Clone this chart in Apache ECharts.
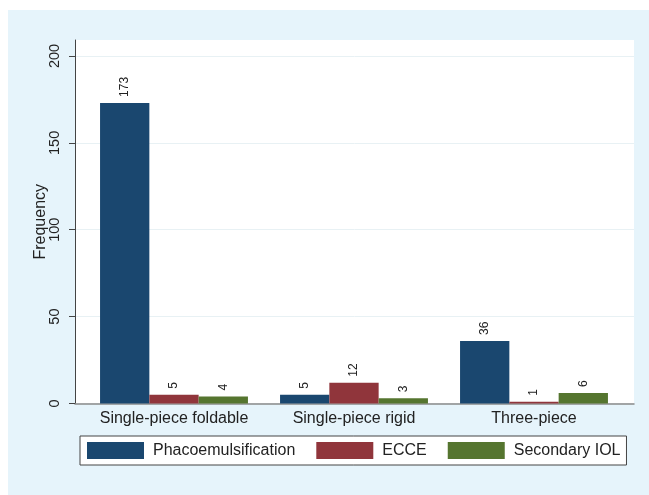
<!DOCTYPE html>
<html>
<head>
<meta charset="utf-8">
<script src="https://cdn.jsdelivr.net/npm/echarts@6/dist/echarts.min.js"></script>
<style>
  body { margin: 0; background: #fff; }
  #wrap { position: relative; width: 649px; height: 495px; }
  #bg { position: absolute; left: 8px; top: 10px; right: 0; bottom: 0; background: #e6f4fb; }
  #chart { position: absolute; left: 0; top: 0; width: 649px; height: 495px; }
</style>
</head>
<body>
<div id="wrap">
  <div id="bg"></div>
  <div id="chart"></div>
</div>
<script>
// lens type categories and counts per surgery type
var categories = ['Single-piece foldable', 'Single-piece rigid', 'Three-piece'];
var phaco = [173, 5, 36];
var ecce = [5, 12, 1];
var secondary = [4, 3, 6];
var yTicks = [0, 50, 100, 150, 200];

var font = '"Liberation Sans", Arial, sans-serif';
var yMax = 209.2; // plot region tops out a little above 200

function barSeries(name, data, color) {
  return {
    name: name,
    type: 'bar',
    data: data,
    barWidth: 49.3,
    barGap: 0,
    xAxisIndex: 0,
    yAxisIndex: 0,
    itemStyle: { color: color },
    label: {
      show: true,
      position: 'top',
      distance: 6,
      rotate: 90,
      align: 'left',
      verticalAlign: 'middle',
      fontSize: 12,
      fontFamily: font,
      color: '#222'
    }
  };
}

var chart = echarts.init(document.getElementById('chart'));
chart.setOption({
  animation: false,
  textStyle: { fontFamily: font },
  grid: [
    { left: 84, right: 25, top: 40, bottom: 91.5 },
    { left: 75, right: 15, top: 40, bottom: 91.5, show: true, backgroundColor: '#fff', borderWidth: 0 }
  ],
  xAxis: [
    {
      type: 'category',
      gridIndex: 0,
      data: categories,
      axisLine: { show: false },
      axisTick: { show: false },
      axisLabel: { interval: 0, hideOverlap: false, fontSize: 16, color: '#222', margin: 7, fontFamily: font }
    },
    {
      type: 'value',
      gridIndex: 1,
      min: 0, max: 1,
      axisLine: { show: true, lineStyle: { color: '#8a8a8a', width: 1.5 } },
      axisTick: { show: false },
      axisLabel: { show: false },
      splitLine: { show: false }
    }
  ],
  yAxis: [
    {
      type: 'value',
      gridIndex: 0,
      min: 0, max: yMax,
      show: false
    },
    {
      type: 'value',
      gridIndex: 1,
      min: 0, max: yMax, interval: 50,
      name: 'Frequency',
      nameLocation: 'middle',
      nameRotate: 90,
      nameGap: 26,
      nameMoveOverlap: false,
      nameTextStyle: { fontSize: 16, color: '#222', fontFamily: font },
      axisLine: { show: true, lineStyle: { color: '#444', width: 1 } },
      axisTick: { show: true, length: 6, customValues: yTicks, lineStyle: { color: '#444' } },
      axisLabel: {
        rotate: 90,
        fontSize: 14.5,
        color: '#222',
        margin: 13,
        fontFamily: font,
        customValues: yTicks
      },
      splitLine: { show: true, lineStyle: { color: '#e8f1f4', width: 1 } }
    }
  ],
  legend: {
    left: 80,
    top: 436,
    orient: 'horizontal',
    itemWidth: 57,
    itemHeight: 17,
    itemGap: 21,
    padding: [6, 6, 6, 7],
    backgroundColor: '#fff',
    borderColor: '#444',
    borderWidth: 1,
    borderRadius: 0,
    icon: 'rect',
    textStyle: { fontSize: 16, color: '#222', fontFamily: font, padding: [0, 0, 0, 4] },
    data: ['Phacoemulsification', 'ECCE', 'Secondary IOL']
  },
  series: [
    barSeries('Phacoemulsification', phaco, '#1a476f'),
    barSeries('ECCE', ecce, '#90353b'),
    barSeries('Secondary IOL', secondary, '#55752f')
  ]
});
</script>
</body>
</html>
